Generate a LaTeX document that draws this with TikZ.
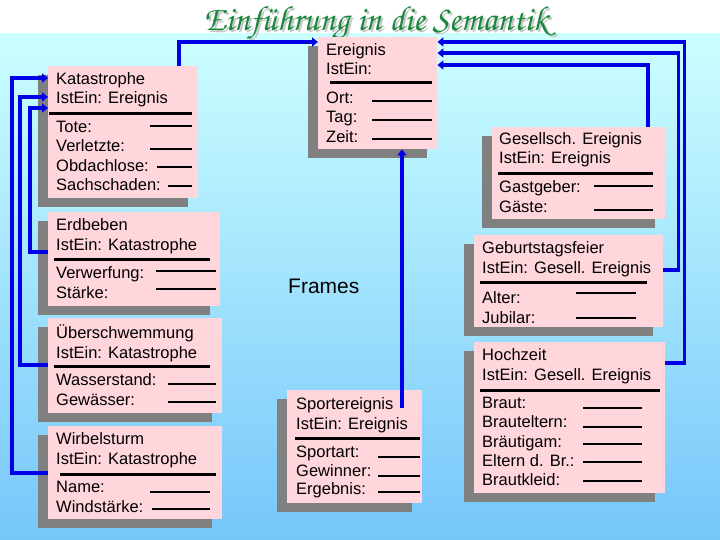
\documentclass[tikz,border=0pt]{standalone}
\usepackage[T1]{fontenc}
\usepackage{fontspec}
\setsansfont{Liberation Sans}
\usetikzlibrary{arrows.meta,shadows}

\definecolor{framepink}{RGB}{255,214,220}
\definecolor{shadowgray}{RGB}{128,128,128}
\definecolor{linkblue}{RGB}{0,0,230}
\definecolor{titlegreen}{RGB}{25,135,60}
\definecolor{bgtop}{RGB}{204,255,255}
\definecolor{bgbottom}{RGB}{118,198,250}

\newcommand\chancery{\fontencoding{T1}\fontfamily{pzc}\fontseries{mb}\fontshape{it}\fontsize{35}{35}\selectfont}

\begin{document}
\begin{tikzpicture}[x=1pt, y=-1pt,
        framebox/.style = {rectangle, fill=framepink, anchor=north west, inner sep=0pt,
            general shadow={fill=shadowgray, shadow xshift=-10pt, shadow yshift=-9pt}},
        head/.style = {anchor=base west, align=left, inner sep=0pt, font=\sffamily\fontsize{16.5}{19.5}\selectfont},
        slots/.style = {head},
        bar/.style = {line width=3pt},
        blank/.style = {line width=2.6pt},
        link/.style = {draw=linkblue, line width=3.5pt, -{Triangle[length=6pt,width=9pt]}}
    ]
    \useasboundingbox (0,0) rectangle (720,540);
    \fill[white] (0,0) rectangle (720,34);
    \shade[top color=bgtop, bottom color=bgbottom] (0,34) rectangle (720,540);

    % ================= TITEL =================
    % (base anchor of a multi-line node = baseline of its last line)
    \node[text=gray!45, anchor=base] at (378,33) {\chancery Einführung in die Semantik};
    \node[text=titlegreen, anchor=base] (title) at (376,31) {\chancery Einführung in die Semantik};

    % ================= KATASTROPHEN =================
    \node[framebox, minimum width=150pt, minimum height=132pt] (katastrophe) at (48,66) {};
    \node[head] (katastrophe-head) at (56,104) {Katastrophe\\IstEin: Ereignis};
    \draw[bar] (49,114) -- (192,114);
    \node[slots] (katastrophe-slots) at (56,191) {Tote:\\Verletzte:\\Obdachlose:\\Sachschaden:};
    \foreach \x/\y in {150/126, 150/149, 157/167, 168/186}
        \draw[blank] (\x,\y) -- (192,\y);
    %
    \node[framebox, minimum width=172pt, minimum height=94pt] (erdbeben) at (48,212) {};
    \node[head] (erdbeben-head) at (56,250) {Erdbeben\\IstEin: Katastrophe};
    \draw[bar] (54,259) -- (210,259);
    \node[slots] (erdbeben-slots) at (56,298) {Verwerfung:\\Stärke:};
    \foreach \y in {271, 289}
        \draw[blank] (156,\y) -- (216,\y);
    %
    \node[framebox, minimum width=174pt, minimum height=95pt] (ueberschwemmung) at (48,318) {};
    \node[head] (ueberschwemmung-head) at (56,358) {Überschwemmung\\IstEin: Katastrophe};
    \draw[bar] (54,366) -- (210,366);
    \node[slots] (ueberschwemmung-slots) at (56,405) {Wasserstand:\\Gewässer:};
    \foreach \y in {384, 402}
        \draw[blank] (168,\y) -- (216,\y);
    %
    \node[framebox, minimum width=174pt, minimum height=93pt] (wirbelsturm) at (48,426) {};
    \node[head] (wirbelsturm-head) at (56,464) {Wirbelsturm\\IstEin: Katastrophe};
    \draw[bar] (60,474) -- (216,474);
    \node[slots] (wirbelsturm-slots) at (56,512) {Name:\\Windstärke:};
    \foreach \x/\y in {150/492, 152/509}
        \draw[blank] (\x,\y) -- (210,\y);

    % ================= EREIGNIS =================
    \node[framebox, minimum width=119pt, minimum height=112pt] (ereignis) at (318,37) {};
    \node[head] (ereignis-head) at (326,75) {Ereignis\\IstEin:};
    \draw[bar] (330,83) -- (432,83);
    \node[slots] (ereignis-slots) at (326,142.5) {Ort:\\Tag:\\Zeit:};
    \foreach \y in {101, 120, 139}
        \draw[blank] (372,\y) -- (432,\y);
    %
    \node[anchor=base west, inner sep=0pt, font=\sffamily\fontsize{21}{25}\selectfont] (frames) at (288,293) {Frames};
    %
    \node[framebox, minimum width=135pt, minimum height=113pt] (sport) at (287,390) {};
    \node[head] (sport-head) at (296,429) {Sportereignis\\IstEin: Ereignis};
    \draw[bar] (295,438) -- (420,438);
    \node[slots, font=\sffamily\fontsize{16.5}{18.5}\selectfont] (sport-slots) at (296,494.5) {Sportart:\\Gewinner:\\Ergebnis:};
    \foreach \y in {457, 476, 492}
        \draw[blank] (378,\y) -- (420,\y);

    % ================= GESELLSCH. EREIGNISSE =================
    \node[framebox, minimum width=173pt, minimum height=92pt] (gesell) at (492,127) {};
    \node[head] (gesell-head) at (499,164) {Gesellsch. Ereignis\\IstEin: Ereignis};
    \draw[bar] (498,174) -- (653,174);
    \node[slots] (gesell-slots) at (499,212) {Gastgeber:\\Gäste:};
    \foreach \y in {186, 210}
        \draw[blank] (594,\y) -- (653,\y);
    %
    \node[framebox, minimum width=189pt, minimum height=92pt] (geburtstag) at (474,235) {};
    \node[head] (geburtstag-head) at (482,273) {Geburtstagsfeier\\IstEin: Gesell. Ereignis};
    \draw[bar] (480,282) -- (647,282);
    \node[slots] (geburtstag-slots) at (482,323) {Alter:\\Jubilar:};
    \foreach \y in {293, 318}
        \draw[blank] (576,\y) -- (636,\y);
    %
    \node[framebox, minimum width=191pt, minimum height=151pt] (hochzeit) at (474,342) {};
    \node[head] (hochzeit-head) at (482,380) {Hochzeit\\IstEin: Gesell. Ereignis};
    \draw[bar] (480,390) -- (660,390);
    \node[slots, font=\sffamily\fontsize{16.5}{19.3}\selectfont] (hochzeit-slots) at (482,485.7) {Braut:\\Brauteltern:\\Bräutigam:\\Eltern d. Br.:\\Brautkleid:};
    \foreach \y in {408, 427, 444, 462, 481}
        \draw[blank] (583,\y) -- (642,\y);

    % ================= VERBINDUNGEN =================
    \draw[link] ([xshift=131pt]katastrophe.north west) |- ([yshift=-5pt]ereignis.north west);
    \draw[link] ([xshift=156pt]gesell.north west) |- ([yshift=-28pt]ereignis.north east);
    \draw[link] ([yshift=-35pt]geburtstag.north east) -- ++(15,0) |- ([yshift=-16pt]ereignis.north east);
    \draw[link] ([yshift=-21pt]hochzeit.north east) -- ++(19,0) |- ([yshift=-5pt]ereignis.north east);
    \draw[link] ([xshift=115pt,yshift=-18pt]sport.north west) -- ([xshift=84pt]ereignis.south west);
    %
    \draw[link] ([yshift=-40pt]erdbeben.north west) -- ++(-18,0) |- ([yshift=-42pt]katastrophe.north west);
    \draw[link] ([yshift=-47pt]ueberschwemmung.north west) -- ++(-28,0) |- ([yshift=-31pt]katastrophe.north west);
    \draw[link] ([yshift=-47pt]wirbelsturm.north west) -- ++(-36,0) |- ([yshift=-12pt]katastrophe.north west);

\end{tikzpicture}
\end{document}
